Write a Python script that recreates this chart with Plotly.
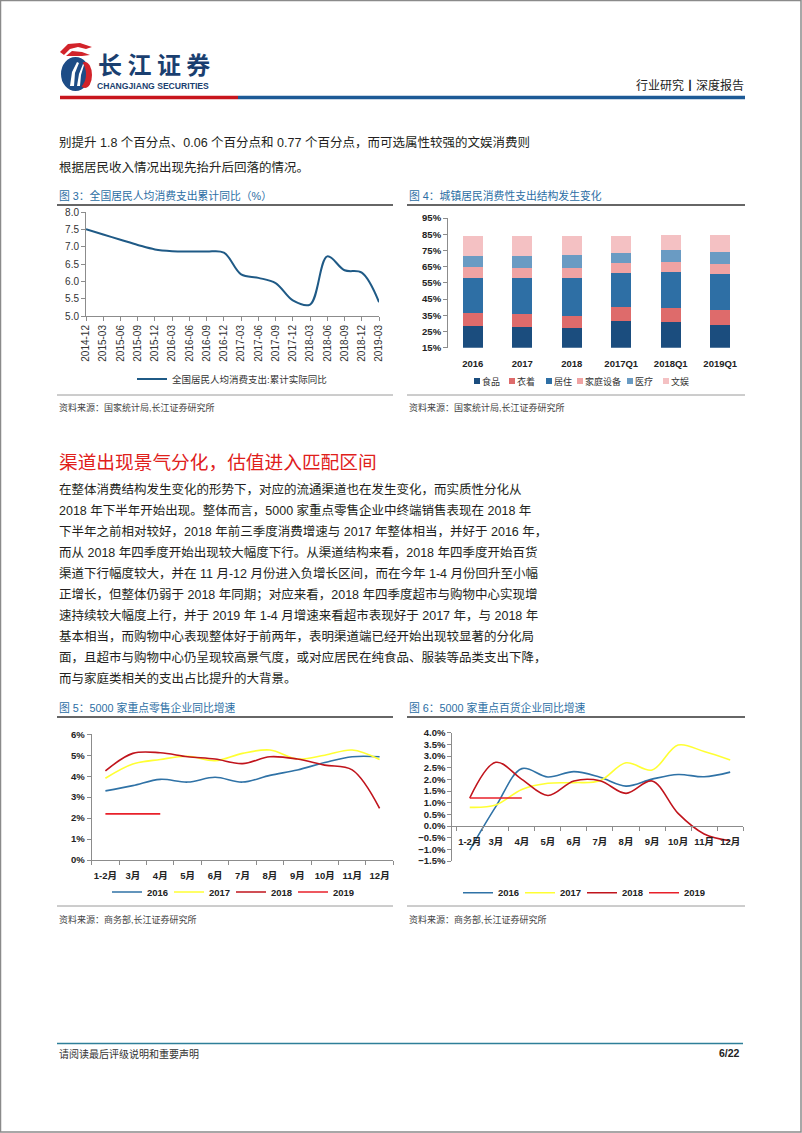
import plotly.graph_objects as go

W, H = 802, 1133
def X(px): return px / W
def Y(py): return 1 - py / H

FONT = "Liberation Sans, Arial, Noto Sans CJK SC, sans-serif"
TITLE_BLUE = "#2c6ea4"
TXT = "#231f20"

# ---------------- Data ----------------
# Figure 3
c3_dates = ["2014-12", "2015-03", "2015-06", "2015-09", "2015-12", "2016-03", "2016-06",
            "2016-09", "2016-12", "2017-03", "2017-06", "2017-09", "2017-12", "2018-03",
            "2018-06", "2018-09", "2018-12", "2019-03"]
c3_vals = [7.5, 7.35, 7.2, 7.05, 6.92, 6.87, 6.86, 6.86, 6.83, 6.2, 6.1, 5.95, 5.45, 5.33,
           6.72, 6.32, 6.25, 5.4]
c3_name = "全国居民人均消费支出:累计实际同比"

# Figure 4
c4_cats = ["2016", "2017", "2018", "2017Q1", "2018Q1", "2019Q1"]
c4_series = ["食品", "衣着", "居住", "家庭设备", "医疗", "文娱"]
c4_food = [28.6, 28.0, 27.4, 31.5, 30.9, 29.2]
c4_cloth = [7.6, 7.6, 7.0, 8.7, 8.6, 8.9]
c4_house = [22.1, 22.7, 23.9, 20.8, 22.1, 22.3]
c4_home = [6.4, 5.8, 5.8, 6.0, 6.0, 6.1]
c4_med = [7.0, 7.4, 7.8, 6.4, 7.6, 7.7]
c4_ent = [12.0, 12.2, 11.8, 10.3, 9.3, 10.3]
c4_colors = ["#1b4d7e", "#de6b6b", "#2e6fa5", "#f0a3a3", "#6a9bc3", "#f4c1c3"]

# Figure 5 / 6
months = ["1-2月", "3月", "4月", "5月", "6月", "7月", "8月", "9月", "10月", "11月", "12月"]
years = ["2016", "2017", "2018", "2019"]
year_colors = ["#2f72a6", "#ffff33", "#c0141c", "#e8202a"]
r2016 = [3.3, 3.55, 3.85, 3.72, 3.95, 3.72, 4.04, 4.3, 4.65, 4.93, 4.93]
r2017 = [3.9, 4.58, 4.8, 4.95, 4.74, 5.09, 5.25, 4.82, 5.0, 5.25, 4.8]
r2018 = [4.25, 5.09, 5.12, 4.93, 4.82, 4.6, 4.93, 4.82, 4.53, 4.3, 2.46]
r2019 = [2.2, 2.2, 2.2]
d2016 = [-1.03, 0.83, 2.46, 2.1, 2.33, 2.09, 1.71, 2.01, 2.21, 2.11, 2.31]
d2017 = [0.8, 0.9, 1.57, 1.83, 1.86, 1.94, 2.71, 2.4, 3.47, 3.19, 2.83]
d2018 = [1.2, 2.73, 2.0, 1.31, 1.93, 1.94, 1.4, 1.93, 0.54, -0.34, -0.63]
d2019 = [1.2, 1.2, 1.2]

# Text
top_lines = ["别提升 1.8 个百分点、0.06 个百分点和 0.77 个百分点，而可选属性较强的文娱消费则",
             "根据居民收入情况出现先抬升后回落的情况。"]
heading = "渠道出现景气分化，估值进入匹配区间"
body_lines = [
    "在整体消费结构发生变化的形势下，对应的流通渠道也在发生变化，而实质性分化从",
    "2018 年下半年开始出现。整体而言，5000 家重点零售企业中终端销售表现在 2018 年",
    "下半年之前相对较好，2018 年前三季度消费增速与 2017 年整体相当，并好于 2016 年，",
    "而从 2018 年四季度开始出现较大幅度下行。从渠道结构来看，2018 年四季度开始百货",
    "渠道下行幅度较大，并在 11 月-12 月份进入负增长区间，而在今年 1-4 月份回升至小幅",
    "正增长，但整体仍弱于 2018 年同期；对应来看，2018 年四季度超市与购物中心实现增",
    "速持续较大幅度上行，并于 2019 年 1-4 月增速来看超市表现好于 2017 年，与 2018 年",
    "基本相当，而购物中心表现整体好于前两年，表明渠道端已经开始出现较显著的分化局",
    "面，且超市与购物中心仍呈现较高景气度，或对应居民在纯食品、服装等品类支出下降，",
    "而与家庭类相关的支出占比提升的大背景。",
]

fig = go.Figure()

# ---------------- Figure 3 ----------------
fig.add_trace(go.Scatter(x=c3_dates, y=c3_vals, mode="lines", name=c3_name,
                         line=dict(color="#1f5a86", width=2, shape="spline"),
                         xaxis="x", yaxis="y", legend="legend"))

# ---------------- Figure 4 ----------------
for name, vals, col in zip(c4_series, [c4_food, c4_cloth, c4_house, c4_home, c4_med, c4_ent], c4_colors):
    fig.add_trace(go.Bar(x=c4_cats, y=vals, name=name, marker=dict(color=col, line=dict(width=0)),
                         width=0.4, xaxis="x2", yaxis="y2", showlegend=False))

# ---------------- Figure 5 ----------------
for yr, vals, col in zip(years, [r2016, r2017, r2018, r2019], year_colors):
    fig.add_trace(go.Scatter(x=months[:len(vals)], y=vals, mode="lines", name=yr,
                             line=dict(color=col, width=1.6, shape="spline"),
                             xaxis="x3", yaxis="y3", legend="legend3"))

# ---------------- Figure 6 ----------------
for yr, vals, col in zip(years, [d2016, d2017, d2018, d2019], year_colors):
    fig.add_trace(go.Scatter(x=months[:len(vals)], y=vals, mode="lines", name=yr,
                             line=dict(color=col, width=1.6, shape="spline"),
                             xaxis="x4", yaxis="y4", legend="legend4"))

axcommon = dict(showgrid=False, zeroline=False, showline=True, linecolor="#8c8c8c", linewidth=1,
                ticks="outside", ticklen=4, tickcolor="#8c8c8c")
tick_reg = dict(family=FONT, size=10, color="#333333")
tick_bold = dict(family=FONT, size=9.5, color="#222222", weight="bold")

fig.update_layout(
    width=W, height=H, margin=dict(l=0, r=0, t=0, b=0, autoexpand=False),
    paper_bgcolor="white", plot_bgcolor="white", barmode="stack",
    font=dict(family=FONT, color=TXT),
    # Fig 3
    xaxis=dict(domain=[X(86), X(379)], type="category", range=[0, 17], tickangle=-90,
               tickfont=tick_reg, anchor="y", **axcommon),
    yaxis=dict(domain=[Y(316), Y(212)], range=[5, 8], dtick=0.5, tickformat=".1f",
               tickfont=tick_reg, anchor="x", **axcommon),
    # Fig 4
    xaxis2=dict(domain=[X(448), X(745)], type="category", range=[-0.5, 5.5], showgrid=False,
                zeroline=False, showline=False, ticks="", tickfont=tick_bold, anchor="y2",
                tickangle=0, ticklabelstandoff=9),
    yaxis2=dict(domain=[Y(347.7), Y(218)], range=[15, 95], tick0=15, dtick=10, ticksuffix="%",
                tickfont=tick_bold, anchor="x2", **axcommon),
    # Fig 5
    xaxis3=dict(domain=[X(91.7), X(393.3)], type="category", range=[-0.5, 10.5], tickangle=0,
                tickson="boundaries", tickfont=tick_bold, anchor="y3", ticklabelstandoff=7,
                **axcommon),
    yaxis3=dict(domain=[Y(860), Y(734.3)], range=[0, 6], dtick=1, ticksuffix="%",
                tickfont=tick_bold, anchor="x3", **axcommon),
    # Fig 6
    xaxis4=dict(domain=[X(452.3), X(743.2)], type="category", range=[-0.67, 10.5], tickangle=0,
                tickson="boundaries", tickfont=tick_bold, anchor="free", position=Y(826),
                ticklabelstandoff=7, **axcommon),
    yaxis4=dict(domain=[Y(861), Y(732.7)], range=[-1.5, 4.0], dtick=0.5, tickformat=".1f",
                ticksuffix="%", tickfont=tick_bold, anchor="x4", **axcommon),
    legend=dict(x=X(132), y=Y(379), xanchor="left", yanchor="middle", orientation="h",
                bgcolor="rgba(0,0,0,0)", font=dict(family=FONT, size=9.5, color="#333")),
    legend3=dict(x=X(107), y=Y(892), xanchor="left", yanchor="middle", orientation="h",
                 entrywidth=17, entrywidthmode="pixels",
                 bgcolor="rgba(0,0,0,0)", font=dict(family=FONT, size=9.5, color="#222", weight="bold")),
    legend4=dict(x=X(458), y=Y(892.7), xanchor="left", yanchor="middle", orientation="h",
                 entrywidth=17, entrywidthmode="pixels",
                 bgcolor="rgba(0,0,0,0)", font=dict(family=FONT, size=9.5, color="#222", weight="bold")),
)

# ---------------- Annotations ----------------
ann = []
def txt(x, y, s, size, color=TXT, xanchor="left", bold=False, family=FONT):
    ann.append(dict(x=X(x), y=Y(y), xref="paper", yref="paper", text=s, showarrow=False,
                    xanchor=xanchor, yanchor="middle",
                    font=dict(family=family, size=size, color=color, weight="bold" if bold else "normal")))

# header
txt(96, 63, "长 江 证 券", 24, "#1a3f70", bold=True, family="Noto Sans CJK SC")
txt(95, 86, "CHANGJIANG SECURITIES", 8.6, "#1a3f70", bold=True)
txt(746, 84, "行业研究<b>丨</b>深度报告", 12, "#222222", xanchor="right", family="Noto Sans CJK SC")

for i, s in enumerate(top_lines):
    txt(57, 143 + 24 * i, s, 12.5)

# figure titles
txt(57, 195, "图 3：全国居民人均消费支出累计同比（%）", 10.8, TITLE_BLUE)
txt(407, 195, "图 4：城镇居民消费性支出结构发生变化", 10.8, TITLE_BLUE)
txt(57, 707, "图 5：5000 家重点零售企业同比增速", 10.8, TITLE_BLUE)
txt(407, 707, "图 6：5000 家重点百货企业同比增速", 10.8, TITLE_BLUE)

# sources
txt(57, 407, "资料来源：国家统计局,长江证券研究所", 9, "#444444")
txt(407, 407, "资料来源：国家统计局,长江证券研究所", 9, "#444444")
txt(57, 919, "资料来源：商务部,长江证券研究所", 9, "#444444")
txt(407, 919, "资料来源：商务部,长江证券研究所", 9, "#444444")

# heading & body
txt(57, 460, heading, 18.7, "#e0201b", family="Noto Sans CJK SC")
for i, s in enumerate(body_lines):
    txt(57, 490 + 20.9 * i, s, 12.5)

# fig 4 legend (manual)
leg_sq = [474, 509, 546, 577, 627, 663]
shapes = []
for xs, name, col in zip(leg_sq, c4_series, c4_colors):
    shapes.append(dict(type="rect", xref="paper", yref="paper", x0=X(xs), x1=X(xs + 6),
                       y0=Y(384), y1=Y(378), fillcolor=col, line=dict(width=0)))
    txt(xs + 6, 381.5, name, 9, "#333333")

# footer
txt(57, 1053, "请阅读最后评级说明和重要声明", 10, "#333333", family="Noto Sans CJK SC")
txt(742, 1053, "6/22", 10.5, "#222222", xanchor="right", bold=True)

# ---------------- Shapes ----------------
def hline(x0, x1, y, color, width):
    shapes.append(dict(type="line", xref="paper", yref="paper", x0=X(x0), x1=X(x1), y0=Y(y), y1=Y(y),
                       line=dict(color=color, width=width)))

hline(60, 238, 97.5, "#c8161d", 3.5)
hline(238, 745, 97.5, "#1d5a96", 3.5)
for (a, b) in [(57, 393), (407, 745)]:
    hline(a, b, 205, "#333333", 1.3)
    hline(a, b, 395, "#9a9a9a", 1)
    hline(a, b, 717, "#333333", 1.3)
    hline(a, b, 906, "#9a9a9a", 1)
hline(57, 743, 1043.5, "#2e7f99", 1.5)

# logo (approximate)
def path(d, fill, lw=0, lc=None):
    shapes.append(dict(type="path", xref="paper", yref="paper", path=d, fillcolor=fill,
                       line=dict(width=lw, color=lc or fill)))

def P(pts):
    return " ".join(("M" if i == 0 else "L") + f" {X(px):.5f},{Y(py):.5f}" for i, (px, py) in enumerate(pts)) + " Z"

shapes.append(dict(type="circle", xref="paper", yref="paper", x0=X(61), x1=X(90), y0=Y(91), y1=Y(57),
                   fillcolor="#1d4c86", line=dict(width=0)))
shapes.append(dict(type="circle", xref="paper", yref="paper", x0=X(78), x1=X(92), y0=Y(88), y1=Y(62),
                   fillcolor="#d2232a", line=dict(width=0)))
shapes.append(dict(type="circle", xref="paper", yref="paper", x0=X(66), x1=X(86), y0=Y(89), y1=Y(59),
                   fillcolor="#1d4c86", line=dict(width=0)))
path(P([(70, 86), (72, 72), (77, 62), (79, 63), (75, 73), (74, 86)]), "white")
path(P([(77, 86), (79, 74), (83, 64), (84, 65), (81, 75), (80, 86)]), "white")
path(P([(60, 52), (68, 44), (80, 43), (92, 47), (86, 49), (78, 47), (70, 49), (64, 55)]), "#d2232a")
path(P([(66, 56), (72, 51), (82, 52), (90, 55), (82, 56), (74, 56)]), "#d2232a")

# page border
shapes.append(dict(type="rect", xref="paper", yref="paper", x0=X(0.5), x1=X(801), y0=Y(1132), y1=Y(0.5),
                   line=dict(color="#8a8a8a", width=1.5), fillcolor="rgba(0,0,0,0)"))

fig.update_layout(annotations=ann, shapes=shapes)
fig.write_html("out.html", config={"displayModeBar": False},
               post_script="document.body.style.margin='0px';")
